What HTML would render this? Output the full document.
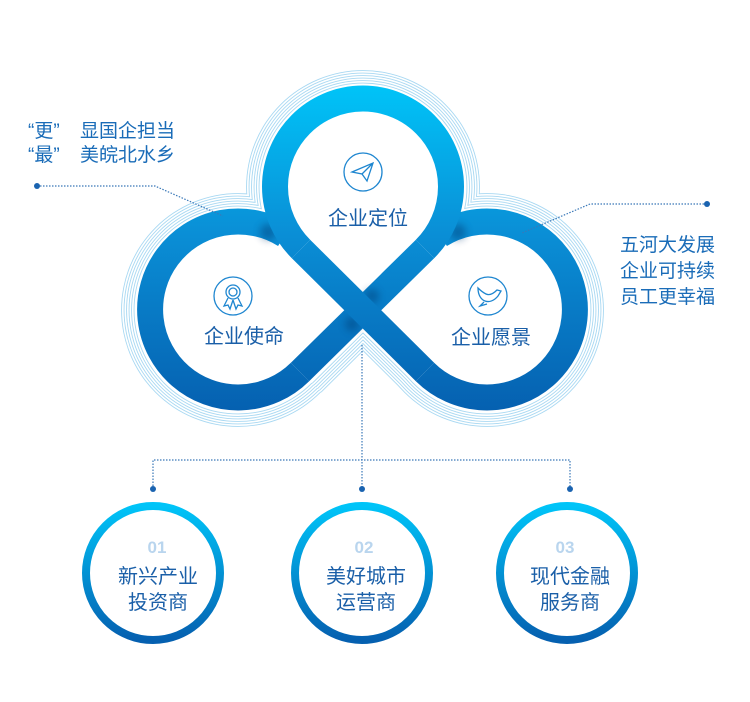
<!DOCTYPE html>
<html><head><meta charset="utf-8"><style>
html,body{margin:0;padding:0;background:#fff;}
svg{display:block;}
text{font-family:"Liberation Sans","Noto Sans CJK SC",sans-serif;}
</style></head><body>
<svg width="750" height="702" viewBox="0 0 750 702" xmlns="http://www.w3.org/2000/svg">
<defs>
<linearGradient id="g" gradientUnits="userSpaceOnUse" x1="0" y1="85" x2="0" y2="412">
<stop offset="0" stop-color="#00c4f8"/><stop offset="0.45" stop-color="#0a8fd6"/><stop offset="1" stop-color="#0560b0"/>
</linearGradient>
<linearGradient id="cg" x1="0" y1="0" x2="0" y2="1">
<stop offset="0" stop-color="#00c4f8"/><stop offset="1" stop-color="#0560b0"/>
</linearGradient>
<filter id="bl" x="-50%" y="-50%" width="200%" height="200%"><feGaussianBlur stdDeviation="4"/></filter>
<clipPath id="rib">
<path d="M 285 235 A 88 88 0 1 0 300 372 L 425 249 A 88 88 0 1 0 301 249 L 425 372 A 88 88 0 1 0 440 235" fill="none" stroke="#000" stroke-width="26"/>
</clipPath>
</defs>

<g id="contours"></g>
<script>
(function(){
var g=document.getElementById('contours');var ns='http://www.w3.org/2000/svg';
var offs=[15,12.5,10,7.5,5,2.5];
offs.forEach(function(d){
 [['#a8d8f2',d+0.9],['#ffffff',d]].forEach(function(p){
  var c=p[0],dd=p[1];
  [[363,187],[238,310],[487,310]].forEach(function(q){
   var e=document.createElementNS(ns,'circle');e.setAttribute('cx',q[0]);e.setAttribute('cy',q[1]);e.setAttribute('r',101+dd);e.setAttribute('fill',c);g.appendChild(e);});
  [[301,249,425,372],[425,249,301,372]].forEach(function(l){
   var e=document.createElementNS(ns,'line');e.setAttribute('x1',l[0]);e.setAttribute('y1',l[1]);e.setAttribute('x2',l[2]);e.setAttribute('y2',l[3]);e.setAttribute('stroke',c);e.setAttribute('stroke-width',26+2*dd);g.appendChild(e);});
 });
});
})();
</script>

<g fill="none" stroke="url(#g)" stroke-width="26">
<path d="M 285 235 A 88 88 0 1 0 300 372"/>
<path d="M 425 372 A 88 88 0 1 0 440 235"/>
<path d="M 300 372 L 425 249"/>
</g>
<g opacity="0.45" filter="url(#bl)" fill="#03386f">
<circle cx="268" cy="232" r="8"/>
<circle cx="458" cy="232" r="8"/>
<circle cx="372" cy="296" r="7"/>
<circle cx="352" cy="324" r="7"/>
</g>
<g fill="none" stroke="url(#g)" stroke-width="26">
<path d="M 425 249 A 88 88 0 1 0 301 249"/>
<path d="M 301 249 L 425 372"/>
</g>

<g fill="none" stroke="#1e86d0" stroke-width="1.3">
<circle cx="363" cy="172" r="19"/>
<path d="M352 172 L373 163 L367 181 L362 174 Z M362 174 L373 163"/>
<circle cx="233" cy="296" r="19"/>
<circle cx="233" cy="292" r="7"/><circle cx="233" cy="292" r="4"/>
<path d="M228 298 L224 306 L228 305 L230 309 L233 300 M238 298 L242 306 L238 305 L236 309 L233 300"/>
<circle cx="488" cy="296" r="19"/>
<path d="M478 288 C478 302 490 306 498 296 L501 291 L497 290 C494 293 490 296 486 294 C482 292 480 290 478 288 Z M484 302 L480 306 L487 304"/>
</g>

<g fill="#1a5fa8" font-size="20" text-anchor="middle">
<text x="368" y="225">企业定位</text>
<text x="244" y="343">企业使命</text>
<text x="491" y="344">企业愿景</text>
</g>

<g fill="#1a6cb8" font-size="19">
<text x="28" y="137">“更”<tspan x="80">显国企担当</tspan></text>
<text x="28" y="161">“最”<tspan x="80">美皖北水乡</tspan></text>
<text x="620" y="251">五河大发展</text>
<text x="620" y="277">企业可持续</text>
<text x="620" y="303">员工更幸福</text>
</g>
<g fill="none" stroke="#3a78b8" stroke-width="1.2" stroke-dasharray="1.5 1.5">
<path d="M37 186 L155 186 L223 216"/>
<path d="M707 204 L590 204 L522 233"/>
<path d="M362 345 L362 489"/>
<path d="M153 489 L153 460 L570 460 L570 489"/>
</g>
<g fill="#1a63b0">
<circle cx="37" cy="186" r="3"/><circle cx="707" cy="204" r="3"/>
<circle cx="153" cy="489" r="3"/><circle cx="362" cy="489" r="3"/><circle cx="570" cy="489" r="3"/>
</g>

<g fill="none" stroke="url(#cg)" stroke-width="8">
<circle cx="153" cy="573" r="67"/>
<circle cx="362" cy="573" r="67"/>
<circle cx="567" cy="573" r="67"/>
</g>
<g text-anchor="middle">
<g fill="#b9d5ee" font-size="17" font-weight="bold">
<text x="157" y="553">01</text><text x="364" y="553">02</text><text x="565" y="553">03</text>
</g>
<g fill="#1a5fa8" font-size="20">
<text x="158" y="583">新兴产业</text><text x="158" y="609">投资商</text>
<text x="366" y="583">美好城市</text><text x="366" y="609">运营商</text>
<text x="570" y="583">现代金融</text><text x="570" y="609">服务商</text>
</g>
</g>
</svg>
</body></html>
